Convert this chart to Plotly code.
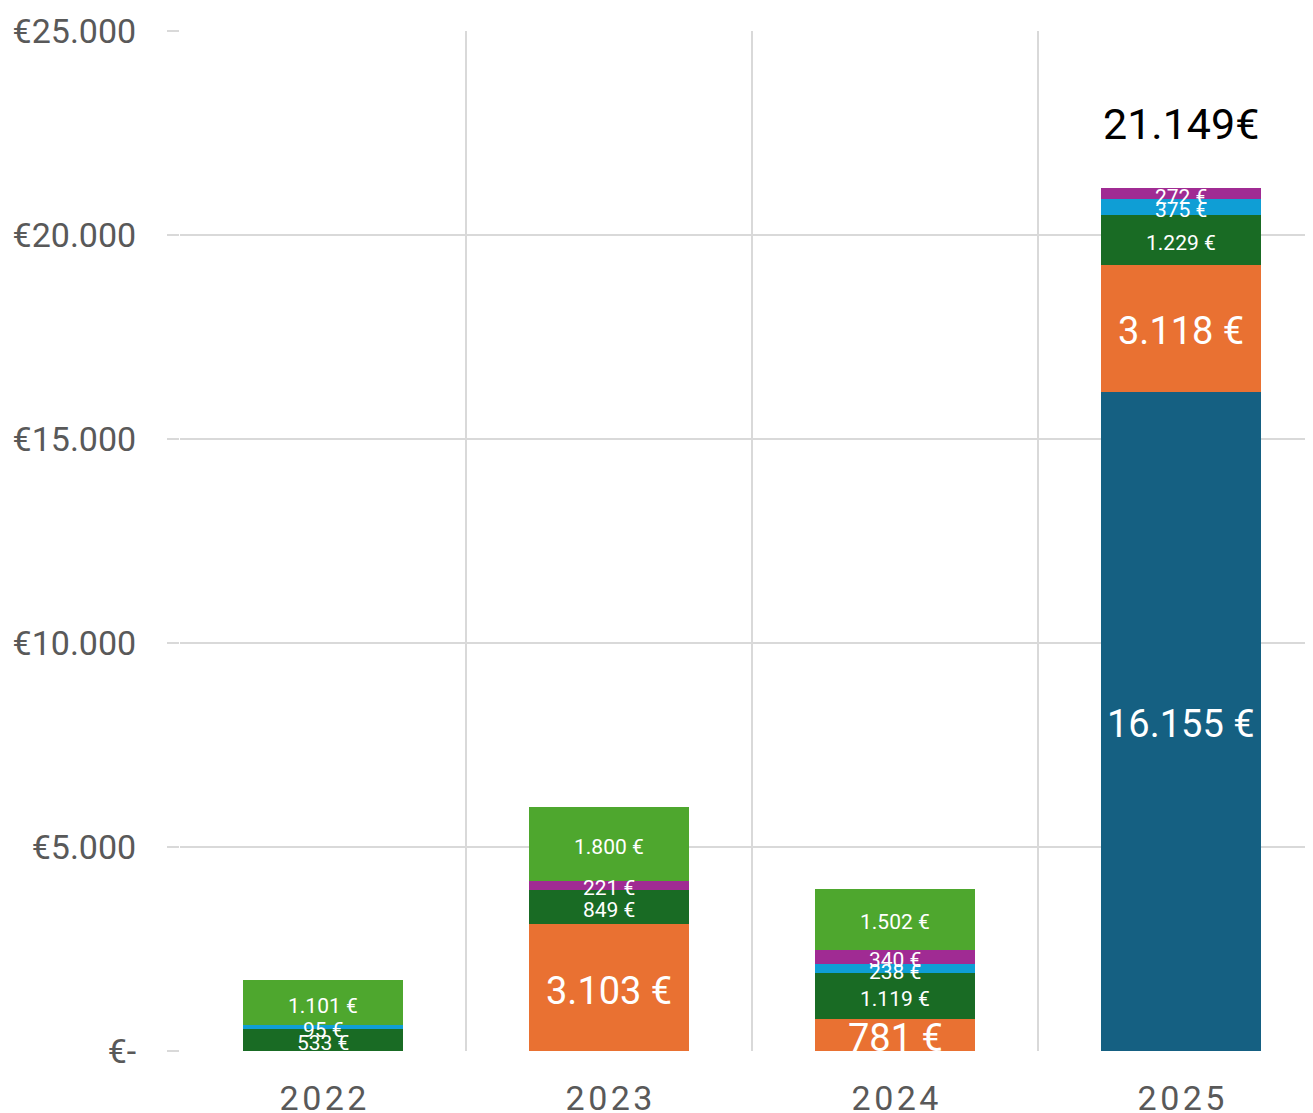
import plotly.graph_objects as go

# ---- data ----
years = ["2022", "2023", "2024", "2025"]
series_names = ["Serie 1", "Serie 2", "Serie 3", "Serie 4", "Serie 5", "Serie 6"]
dark_blue = [0, 0, 0, 16155]
orange = [0, 3103, 781, 3118]
dark_green = [533, 849, 1119, 1229]
light_blue = [95, 0, 238, 375]
purple = [0, 221, 340, 272]
light_green = [1101, 1800, 1502, 0]
y_tick_vals = [0, 5000, 10000, 15000, 20000, 25000]
y_tick_text = ["€-", "€5.000", "€10.000", "€15.000", "€20.000", "€25.000"]
total_label_year = "2025"

series = [dark_blue, orange, dark_green, light_blue, purple, light_green]
colors = ["#156082", "#E97132", "#196B24", "#0F9ED5", "#A02B93", "#4EA72E"]
label_sizes = [38, 38, 21, 21, 21, 21]

FONT = "Roboto"
GRID = "#D9D9D9"
xs = list(range(len(years)))


def fmt(v, sep=" "):
    return f"{v:,}".replace(",", ".") + sep + "€"


fig = go.Figure()
for name, vals, col in zip(series_names, series, colors):
    fig.add_trace(go.Bar(x=xs, y=vals, name=name, marker=dict(color=col, line=dict(width=0)),
                         width=0.56, hoverinfo="skip"))

# segment labels positioned in data coordinates
base = [0] * len(years)
for vals, size in zip(series, label_sizes):
    for i, v in enumerate(vals):
        if v > 0:
            fig.add_annotation(x=xs[i], y=base[i] + v / 2, text=fmt(v), showarrow=False,
                               xanchor="center", yanchor="middle", yshift=-3,
                               font=dict(family=FONT, size=size, color="white"))
        base[i] += v

ti = years.index(total_label_year)
fig.add_annotation(x=xs[ti], y=base[ti], text=fmt(base[ti], ""), showarrow=False,
                   yanchor="bottom", yshift=37, font=dict(family=FONT, size=43, color="black"))

hs = "\u200a"
fig.update_layout(
    barmode="stack",
    width=1305, height=1105,
    margin=dict(l=172, r=0, t=23, b=62, autoexpand=False),
    paper_bgcolor="white", plot_bgcolor="white",
    showlegend=False,
    font=dict(family=FONT, color="#595959"),
    xaxis=dict(
        range=[-0.5, -0.5 + 1133 / 286], tickmode="array", tickvals=xs,
        ticktext=[hs.join(y) for y in years], showgrid=False, zeroline=False,
        tickfont=dict(family=FONT, size=34, color="#595959"), ticks="", ticklabelstandoff=24,
        minor=dict(tickmode="array", tickvals=[x - 0.5 for x in xs], showgrid=True,
                   gridcolor=GRID, gridwidth=2, ticks=""),
        fixedrange=True, automargin=False,
    ),
    yaxis=dict(
        range=[0, 25000], tickmode="array", tickvals=y_tick_vals, ticktext=y_tick_text,
        showgrid=True, gridcolor=GRID, gridwidth=2, zeroline=False,
        ticks="outside", ticklen=12, tickcolor=GRID, tickwidth=2, ticklabelstandoff=24,
        tickfont=dict(family=FONT, size=34, color="#595959"), fixedrange=True, automargin=False,
    ),
)

fig.write_html("out.html")
